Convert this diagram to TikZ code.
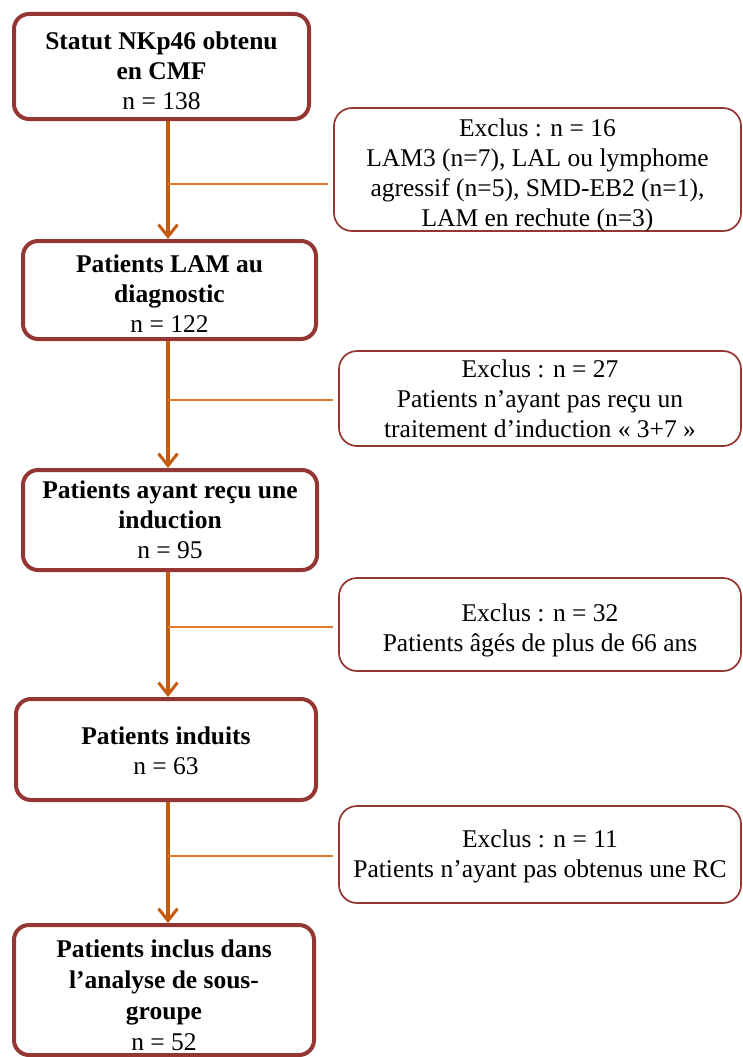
\documentclass[tikz,border=0pt]{standalone}
\usepackage{fontspec}
\setmainfont{Liberation Serif}
\usetikzlibrary{arrows.meta}
\definecolor{boxred}{HTML}{943634}
\definecolor{arrorange}{HTML}{C55A11}
\definecolor{branchorange}{HTML}{E07A2E}
% text block lowered by #1 without changing the size the node sees
\newcommand{\boxtext}[2]{\raisebox{-#1}[\height][\depth]{\begin{tabular}{@{}c@{}}#2\end{tabular}}}
\begin{document}
\begin{tikzpicture}[x=1pt,y=1pt,
  mainbox/.style={draw=boxred, line width=4pt, rounded corners=15pt,
    inner sep=0pt, font=\fontsize{25.5}{30}\selectfont},
  exbox/.style={draw=boxred, line width=1.7pt, rounded corners=18pt,
    inner sep=0pt, font=\fontsize{25.5}{30}\selectfont},
  flowarr/.style={draw=arrorange, line width=3.2pt, -{Straight Barb[length=12pt,width=19pt,line width=3pt]}},
  branch/.style={draw=branchorange, line width=1.2pt}
]
\useasboundingbox (0,0) rectangle (742,-1057);
\fill[white] (0,0) rectangle (742,-1057);

\node[mainbox, minimum width=295, minimum height=105] (b1) at (161.5,-66.5)
  {\boxtext{7pt}{\textbf{Statut NKp46 obtenu}\\\textbf{en CMF}\\n = 138}};
\node[mainbox, minimum width=293, minimum height=98] (b2) at (169.5,-290)
  {\boxtext{6pt}{\textbf{Patients LAM au}\\\textbf{diagnostic}\\n = 122}};
\node[mainbox, minimum width=294, minimum height=100] (b3) at (170,-520)
  {\boxtext{2pt}{\textbf{Patients ayant reçu une}\\\textbf{induction}\\n = 95}};
\node[mainbox, minimum width=300, minimum height=101] (b4) at (166,-749.5)
  {\boxtext{4pt}{\textbf{Patients induits}\\n = 63}};
\node[mainbox, minimum width=300, minimum height=130, font=\fontsize{25.5}{31}\selectfont] (b5) at (164,-990)
  {\boxtext{8pt}{\textbf{Patients inclus dans}\\\textbf{l’analyse de sous-}\\\textbf{groupe}\\n = 52}};

\node[exbox, minimum width=407, minimum height=123] (e1) at (537.5,-169.5)
  {\boxtext{6pt}{Exclus : n = 16\\LAM3 (n=7), LAL ou lymphome\\agressif (n=5), SMD-EB2 (n=1),\\LAM en rechute (n=3)}};
\node[exbox, minimum width=402, minimum height=95] (e2) at (540,-398.5)
  {\boxtext{3pt}{Exclus : n = 27\\Patients n’ayant pas reçu un\\traitement d’induction «~3+7~»}};
\node[exbox, minimum width=402, minimum height=93] (e3) at (540,-624.5)
  {\boxtext{6pt}{Exclus : n = 32\\Patients âgés de plus de 66 ans}};
\node[exbox, minimum width=402, minimum height=97] (e4) at (540,-854.5)
  {\boxtext{2pt}{Exclus : n = 11\\Patients n’ayant pas obtenus une RC}};

\coordinate (ax) at (168,0);
\coordinate (j1) at (168,-184);
\coordinate (j2) at (168,-400);
\coordinate (j3) at (168,-627);
\coordinate (j4) at (168,-856);

\draw[flowarr] (b1.south -| ax) -- (b2.north -| ax);
\draw[flowarr] (b2.south -| ax) -- (b3.north -| ax);
\draw[flowarr] (b3.south -| ax) -- (b4.north -| ax);
\draw[flowarr] (b4.south -| ax) -- (b5.north -| ax);

\draw[branch, shorten >=5pt] (j1) -- (j1 -| e1.west);
\draw[branch, shorten >=5pt] (j2) -- (j2 -| e2.west);
\draw[branch, shorten >=5pt] (j3) -- (j3 -| e3.west);
\draw[branch, shorten >=5pt] (j4) -- (j4 -| e4.west);
\end{tikzpicture}
\end{document}
